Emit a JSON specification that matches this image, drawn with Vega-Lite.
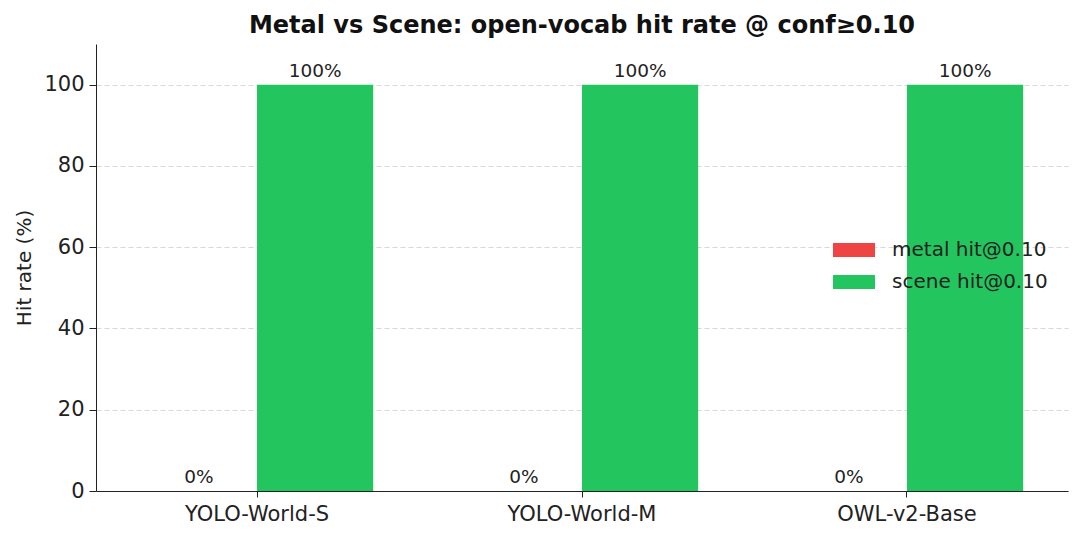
{
  "$schema": "https://vega.github.io/schema/vega-lite/v6.json",
  "width": 972,
  "height": 447,
  "autosize": {"type": "none"},
  "padding": {"left": 96, "top": 44, "right": 12, "bottom": 45},
  "background": "white",
  "title": {
    "text": "Metal vs Scene: open-vocab hit rate @ conf≥0.10",
    "fontSize": 24,
    "fontWeight": "bold",
    "color": "#111111",
    "anchor": "middle",
    "offset": 6
  },
  "data": {
    "values": [
      {"model": "YOLO-World-S", "metric": "metal hit@0.10", "value": 0},
      {"model": "YOLO-World-S", "metric": "scene hit@0.10", "value": 100},
      {"model": "YOLO-World-M", "metric": "metal hit@0.10", "value": 0},
      {"model": "YOLO-World-M", "metric": "scene hit@0.10", "value": 100},
      {"model": "OWL-v2-Base", "metric": "metal hit@0.10", "value": 0},
      {"model": "OWL-v2-Base", "metric": "scene hit@0.10", "value": 100}
    ]
  },
  "transform": [{"calculate": "datum.value + '%'", "as": "label"}],
  "encoding": {
    "x": {
      "field": "model",
      "type": "nominal",
      "sort": ["YOLO-World-S", "YOLO-World-M", "OWL-v2-Base"],
      "scale": {"paddingInner": 0.285, "paddingOuter": 0.138},
      "axis": {
        "title": null,
        "labelAngle": 0,
        "labelFontSize": 21,
        "labelColor": "#222222",
        "labelPadding": 6,
        "domainColor": "#222222",
        "tickColor": "#222222",
        "tickSize": 6,
        "grid": false
      }
    },
    "xOffset": {
      "field": "metric",
      "type": "nominal",
      "sort": ["metal hit@0.10", "scene hit@0.10"],
      "scale": {"paddingInner": 0, "paddingOuter": 0}
    },
    "y": {
      "field": "value",
      "type": "quantitative",
      "scale": {"domain": [0, 110], "nice": false},
      "axis": {
        "title": "Hit rate (%)",
        "titleFontSize": 20,
        "titleFontWeight": "normal",
        "titleColor": "#222222",
        "titlePadding": 9,
        "values": [0, 20, 40, 60, 80, 100],
        "labelFontSize": 21,
        "labelColor": "#222222",
        "labelPadding": 5,
        "domainColor": "#222222",
        "tickColor": "#222222",
        "tickSize": 7,
        "grid": true,
        "gridColor": "#d9d9d9",
        "gridDash": [5, 3],
        "gridWidth": 1
      }
    }
  },
  "layer": [
    {
      "mark": {"type": "bar"},
      "encoding": {
        "color": {
          "field": "metric",
          "type": "nominal",
          "scale": {
            "domain": ["metal hit@0.10", "scene hit@0.10"],
            "range": ["#ef4444", "#22c55e"]
          },
          "legend": {
            "title": null,
            "orient": "none",
            "legendX": 742,
            "legendY": 190,
            "symbolType": "M-1.3125,-0.4375L1.3125,-0.4375L1.3125,0.4375L-1.3125,0.4375Z",
            "symbolSize": 1024,
            "symbolStrokeWidth": 0,
            "symbolOpacity": 1,
            "labelFontSize": 20,
            "labelColor": "#222222",
            "labelOffset": 22,
            "rowPadding": 6,
            "labelLimit": 300
          }
        }
      }
    },
    {
      "mark": {
        "type": "text",
        "fontSize": 18.5,
        "color": "#222222",
        "baseline": "alphabetic",
        "dy": -8
      },
      "encoding": {
        "text": {"field": "label", "type": "nominal"}
      }
    }
  ],
  "config": {
    "font": "DejaVu Sans",
    "view": {"stroke": null}
  }
}
